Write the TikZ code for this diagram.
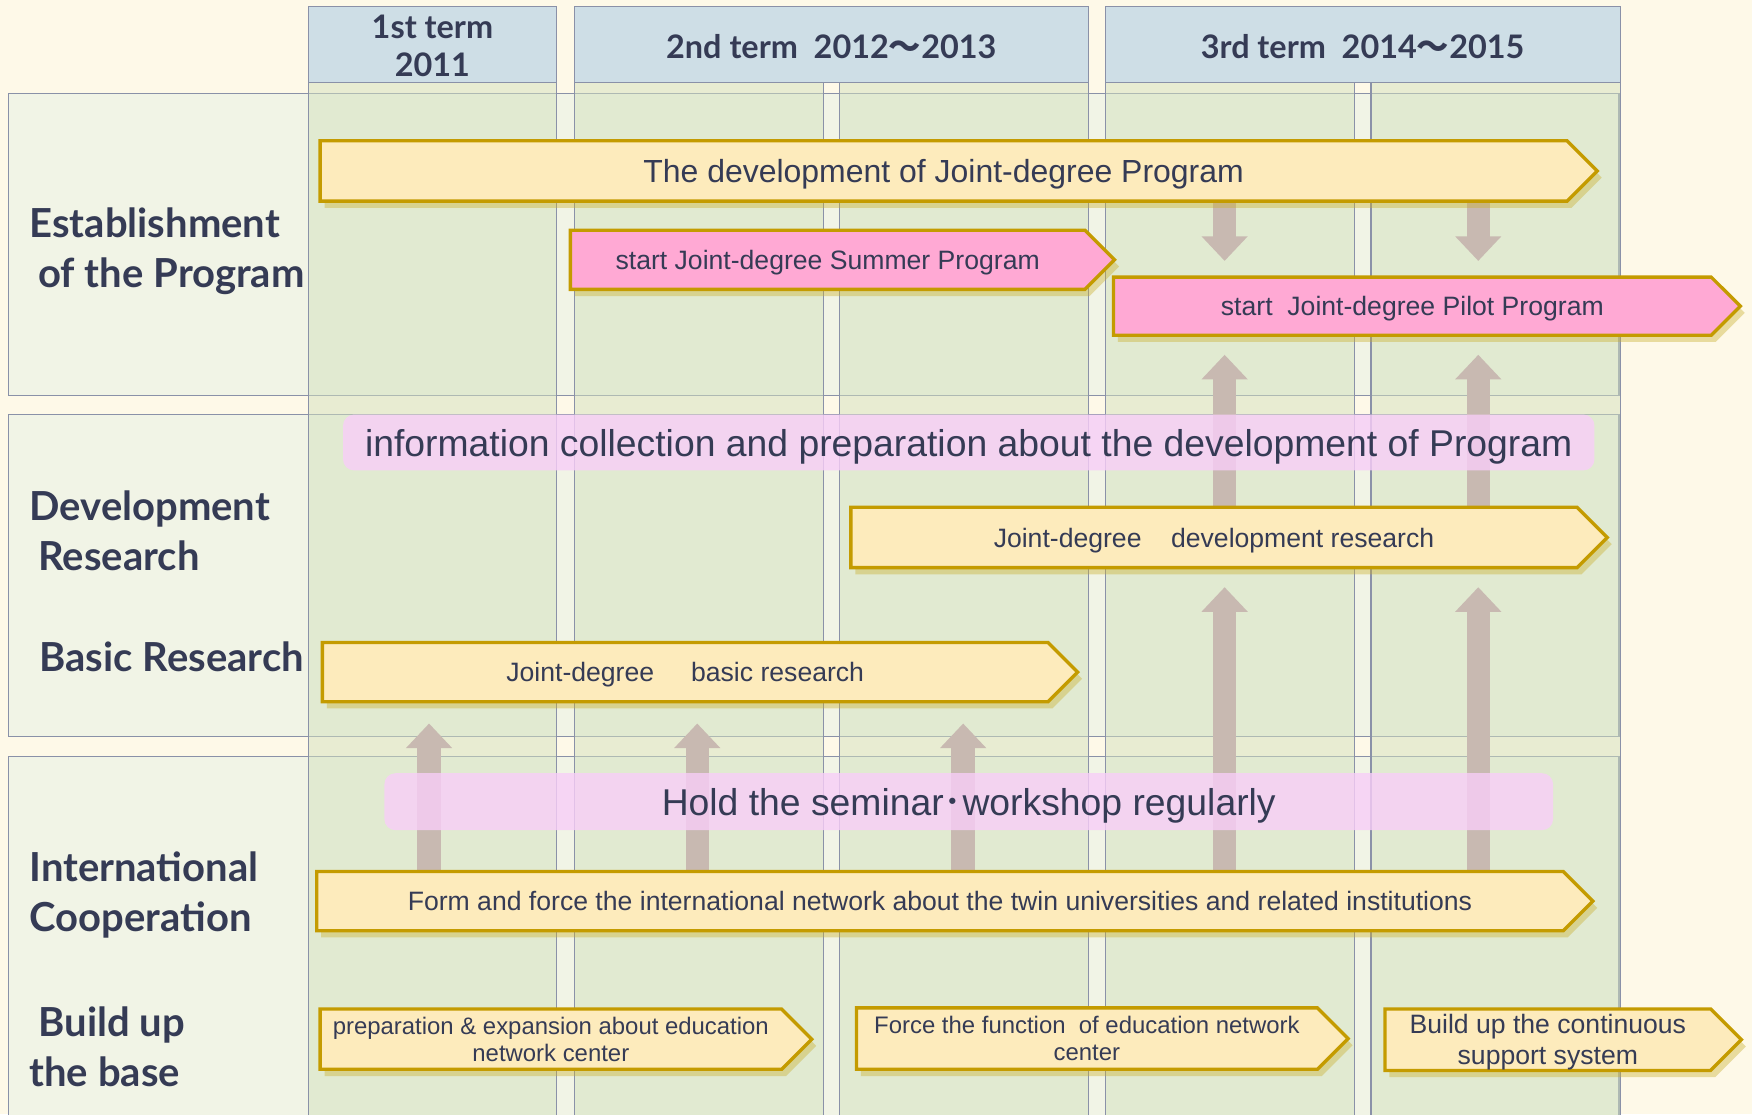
\documentclass[tikz,border=0pt]{standalone}
\usepackage{fontspec}
\setmainfont{Liberation Sans}
\newfontfamily\labelFont{Lato}
\newfontfamily\cjkFont{Noto Sans CJK JP}
\usetikzlibrary{positioning, shapes.symbols, shadows, arrows.meta}
\pgfdeclarelayer{backdrop}
\pgfdeclarelayer{lifts}
\pgfsetlayers{backdrop,lifts,main}
\definecolor{paperColor}{HTML}{FEF9E8}
\definecolor{panelColor}{HTML}{F1F4E6}
\definecolor{columnColor}{HTML}{D3E1BE}
\definecolor{lineColor}{HTML}{8A91A8}
\definecolor{headColor}{HTML}{CEDEE6}
\definecolor{inkColor}{HTML}{353B55}
\definecolor{barFill}{HTML}{FDEBBC}
\definecolor{barLine}{HTML}{C49B00}
\definecolor{pinkFill}{HTML}{FFA9D4}
\definecolor{bannerFill}{HTML}{F8CEF8}
\definecolor{liftColor}{HTML}{C8B9B1}
\definecolor{glowColor}{HTML}{C9AE2E}
\tikzstyle{chart} = [x = 0.5pt, y = -0.5pt]
\tikzstyle{panelStyle} = [fill=panelColor, draw=lineColor, line width=.5pt]
\tikzstyle{columnStyle} = [fill=columnColor, fill opacity=.5, draw=lineColor, line width=.5pt]
\tikzstyle{headStyle} = [fill=headColor, draw=lineColor, line width=.5pt]
\tikzstyle{headText} = [font=\labelFont\bfseries\fontsize{14.5}{17}\selectfont, text=inkColor, align=center, inner sep=0pt]
\tikzstyle{rowText} = [font=\labelFont\bfseries\fontsize{17.9}{22.5}\selectfont, text=inkColor, align=left, anchor=west, inner sep=0pt]
\tikzstyle{barStyle} = [signal, signal to=east, signal pointer angle=90, fill=barFill, draw=barLine, line width=1.5pt, text=inkColor, inner sep=0pt, text depth=0pt, align=center, font=\fontsize{11.9}{14}\selectfont, drop shadow={shadow xshift=2pt, shadow yshift=-3pt, fill=glowColor, opacity=.4}]
\tikzstyle{pinkBar} = [barStyle, fill=pinkFill]
\tikzstyle{smallBar} = [barStyle, font=\fontsize{10.7}{12}\selectfont]
\tikzstyle{bigBar} = [barStyle, font=\fontsize{14.3}{17}\selectfont]
\tikzstyle{bannerStyle} = [rounded corners=5pt, fill=bannerFill, fill opacity=.8, text opacity=1, text=inkColor, text depth=0pt, font=\fontsize{16.7}{20}\selectfont, inner sep=0pt]
\tikzstyle{liftArrow} = [line width=10.5pt, draw=liftColor, -{Triangle[width=20pt, length=11pt]}]
\newcommand{\rowPanel}[2]{\filldraw [panelStyle] (8, #1) rectangle (1449, #2);}
\newcommand{\termColumn}[2]{\filldraw [columnStyle] (#1, 74) rectangle (#2, 1000);}
\newcommand{\termHead}[5]{
  \filldraw [headStyle] (#1, 6) rectangle (#2, 74);
  \node [headText] (#3) at ({(#1 + #2) / 2}, #4) {#5};
}
\newcommand{\planBar}[7]{\node [#1, minimum width = #5 * 0.5pt, minimum height = #6 * 0.5pt, anchor = west] (#2) at (#3, #4) {#7};}

\begin{document}
\begin{tikzpicture}[chart]
  \useasboundingbox (0, 0) rectangle (1568, 997);
  \begin{pgfonlayer}{backdrop}
    \fill [paperColor] (0, 0) rectangle (1568, 997);
    \rowPanel{84}{354}
    \rowPanel{371}{659}
    \rowPanel{677}{1000}
    \foreach \colStart/\colEnd in {276/498, 514/737, 751/974, 989/1212, 1227/1450} {
      \termColumn{\colStart}{\colEnd}
    }
    \termHead{276}{498}{firstTerm}{41}{1st term\\2011}
    \termHead{514}{974}{secondTerm}{42}{2nd term\ \ 2012{\cjkFont ～}2013}
    \termHead{989}{1450}{thirdTerm}{42}{3rd term\ \ 2014{\cjkFont ～}2015}
  \end{pgfonlayer}

  \node [rowText] (estLabel) at (26, 225) {Establishment\\\hspace{4pt}of the Program};
  \node [rowText] (devLabel) at (26, 475) {Development\\\hspace{4pt}Research};
  \node [rowText] (basicLabel) at (35, 588) {Basic Research};
  \node [rowText] (coopLabel) at (26, 801) {International\\Cooperation};
  \node [rowText] (baseLabel) at (26, 937) {\hspace{4pt}Build up\\the base};

  \planBar{bigBar}{devProgram}{285}{153}{1143}{54}{The development of Joint-degree Program}
  \planBar{pinkBar}{summerProgram}{509}{232.5}{487}{53}{start Joint-degree Summer Program}
  \planBar{pinkBar}{pilotProgram}{995}{274}{561}{52}{start\ \ Joint-degree Pilot Program}
  \planBar{barStyle}{devResearch}{760}{481}{677}{54}{Joint-degree\ \ \ \ development research}
  \planBar{barStyle}{basicResearch}{287}{601.5}{676}{53}{Joint-degree\ \ \ \ \ basic research}
  \planBar{barStyle}{network}{282}{806.5}{1142}{53}{Form and force the international network about the twin universities and related institutions}
  \planBar{smallBar}{baseCenter}{285}{930}{440}{54}{preparation \& expansion about education\\network center}
  \planBar{smallBar}{functionCenter}{765}{929.5}{440}{55}{Force the function\ \ of education network\\center}
  \planBar{barStyle}{supportSystem}{1238}{930.5}{319}{55}{Build up the continuous\\support system}

  \node [bannerStyle, minimum width = 1120 * 0.5pt, minimum height = 50 * 0.5pt] (infoBanner) at (867, 396) {information collection and preparation about the development of Program};
  \node [bannerStyle, minimum width = 1046 * 0.5pt, minimum height = 51 * 0.5pt] (seminarBanner) at (867, 717.5) {Hold the seminar{\cjkFont ･}workshop regularly};

  \coordinate (liftA) at (1096, 0);
  \coordinate (liftB) at (1323, 0);
  \coordinate (liftC) at (384, 0);
  \coordinate (liftD) at (624, 0);
  \coordinate (liftE) at (862, 0);
  \begin{pgfonlayer}{lifts}
    \foreach \liftX in {liftA, liftB} {
      \draw [liftArrow, shorten >= 6.5pt] (devProgram.south -| \liftX) -- (pilotProgram.north -| \liftX);
      \draw [liftArrow, shorten >= 8pt] (devResearch.north -| \liftX) -- (pilotProgram.south -| \liftX);
      \draw [liftArrow, shorten >= 8pt] (network.north -| \liftX) -- (devResearch.south -| \liftX);
    }
    \foreach \liftX in {liftC, liftD, liftE} {
      \draw [liftArrow, shorten >= 9pt] (network.north -| \liftX) -- (basicResearch.south -| \liftX);
    }
  \end{pgfonlayer}
\end{tikzpicture}
\end{document}
